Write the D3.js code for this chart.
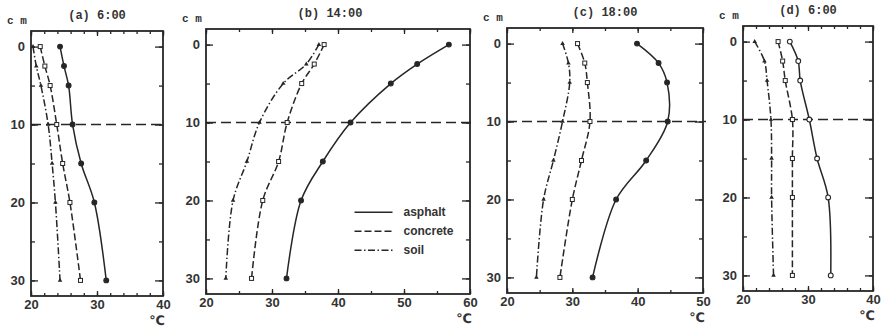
<!DOCTYPE html>
<html>
<head>
<meta charset="utf-8">
<script src="https://cdn.jsdelivr.net/npm/d3@7"></script>
<style>
  body { margin: 0; background: #fff; }
  svg { display: block; }
</style>
</head>
<body>
<svg id="chart" width="884" height="330"></svg>
<script>
// depth of each measurement (cm)
const depths = [0, 2.5, 5, 10, 15, 20, 30];

const panelTitles = ["(a) 6:00", "(b) 14:00", "(c) 18:00", "(d) 6:00"];
const xDomains = [[20, 40], [20, 60], [20, 50], [20, 40]];
const xLabelTicks = [[20, 30, 40], [20, 30, 40, 50, 60], [20, 30, 40, 50], [20, 30, 40]];
const xMinorStep = [2, 5, 5, 2];
const yLabelTicks = [0, 10, 20, 30];
const yMinorTicks = [0, 5, 10, 15, 20, 25, 30];
const seriesNames = ["asphalt", "concrete", "soil"];

// temperatures (°C) per panel, one value per depth
const asphalt = [
  [24.4, 25.0, 25.7, 26.3, 27.6, 29.6, 31.4],
  [56.8, 52.0, 48.0, 41.9, 37.7, 34.4, 32.2],
  [39.9, 43.2, 44.5, 44.6, 41.3, 36.7, 33.1],
  [27.2, 28.5, 28.8, 30.2, 31.4, 33.1, 33.5]
];
const concrete = [
  [21.4, 22.1, 22.9, 23.9, 24.8, 25.9, 27.5],
  [37.9, 36.4, 34.5, 32.3, 31.0, 28.6, 26.9],
  [30.8, 31.9, 32.3, 32.7, 31.4, 30.0, 28.1],
  [25.4, 26.1, 26.5, 27.6, 27.6, 27.6, 27.6]
];
const soil = [
  [20.3, 20.8, 21.5, 22.6, 23.2, 23.7, 24.4],
  [37.1, 35.2, 31.7, 28.1, 26.2, 24.1, 23.0],
  [28.5, 29.4, 29.6, 28.5, 27.1, 25.6, 24.5],
  [21.8, 23.3, 23.7, 24.3, 24.4, 24.4, 24.7]
];

// frame boxes of the four panels
const layout = [
  { left: 31, right: 163, top: 31 },
  { left: 206, right: 470, top: 29 },
  { left: 507, right: 703, top: 28 },
  { left: 743, right: 873, top: 26 }
];
const frameH = 265;
const ink = "#262626";
const dashes = { asphalt: null, concrete: "7,3", soil: "7,2.5,1.5,2.5" };

const svg = d3.select("#chart");

layout.forEach((box, i) => {
  const x = d3.scaleLinear().domain(xDomains[i]).range([box.left, box.right]);
  const y = d3.scaleLinear().domain([-2, 32]).range([box.top, box.top + frameH]);
  const g = svg.append("g");
  const bottom = box.top + frameH;

  const minor = d3.range(xDomains[i][0], xDomains[i][1] + 0.01, xMinorStep[i]);

  // axes with inward ticks
  const addAxis = (axis, tx, ty, labels) => {
    const a = g.append("g").attr("transform", `translate(${tx},${ty})`).call(axis);
    a.select(".domain").remove();
    a.selectAll("line").attr("stroke", ink).attr("stroke-width", 1.3);
    a.selectAll("text")
      .attr("font-family", "Liberation Sans, Arial, sans-serif")
      .attr("font-size", 13)
      .attr("font-weight", "bold")
      .attr("fill", "#333");
    if (!labels) a.selectAll("text").remove();
    return a;
  };

  addAxis(d3.axisBottom(x).tickValues(minor).tickSize(-3).tickFormat(""), 0, bottom, false);
  addAxis(d3.axisBottom(x).tickValues(xLabelTicks[i]).tickSize(-5).tickPadding(4), 0, bottom, true);
  addAxis(d3.axisTop(x).tickValues(minor).tickSize(-3).tickFormat(""), 0, box.top, false);
  addAxis(d3.axisTop(x).tickValues(xLabelTicks[i]).tickSize(-5), 0, box.top, false);
  addAxis(d3.axisLeft(y).tickValues(yMinorTicks).tickSize(-4).tickFormat(""), box.left, 0, false);
  addAxis(d3.axisLeft(y).tickValues(yLabelTicks).tickSize(-7).tickPadding(6), box.left, 0, true);
  addAxis(d3.axisRight(y).tickValues(yMinorTicks).tickSize(-4).tickFormat(""), box.right, 0, false);
  addAxis(d3.axisRight(y).tickValues(yLabelTicks).tickSize(-8), box.right, 0, false);

  // frame
  g.append("rect")
    .attr("x", box.left)
    .attr("y", box.top)
    .attr("width", box.right - box.left)
    .attr("height", frameH)
    .attr("fill", "none")
    .attr("stroke", ink)
    .attr("stroke-width", 1.8);

  // 10 cm reference line
  g.append("line")
    .attr("x1", box.left)
    .attr("x2", box.right + 3)
    .attr("y1", y(10))
    .attr("y2", y(10))
    .attr("stroke", ink)
    .attr("stroke-width", 1.5)
    .attr("stroke-dasharray", "10,5");

  const line = d3.line()
    .x((d) => x(d.t))
    .y((d) => y(d.d))
    .curve(d3.curveCatmullRom.alpha(0.5));

  const series = [
    { name: "asphalt", values: asphalt[i] },
    { name: "concrete", values: concrete[i] },
    { name: "soil", values: soil[i] }
  ];

  series.forEach((s) => {
    const pts = depths.map((d, k) => ({ d: d, t: s.values[k] }));
    g.append("path")
      .datum(pts)
      .attr("d", line)
      .attr("fill", "none")
      .attr("stroke", ink)
      .attr("stroke-width", 1.5)
      .attr("stroke-dasharray", dashes[s.name]);

    const marks = g.append("g").selectAll("g").data(pts).enter().append("g")
      .attr("transform", (d) => `translate(${x(d.t)},${y(d.d)})`);
    if (s.name === "asphalt") {
      marks.append("circle")
        .attr("r", 2.4)
        .attr("fill", i === 3 ? "#fff" : ink)
        .attr("stroke", ink)
        .attr("stroke-width", 1.1);
    } else if (s.name === "concrete") {
      marks.append("rect")
        .attr("x", -2).attr("y", -2).attr("width", 4).attr("height", 4)
        .attr("fill", "#fff")
        .attr("stroke", ink)
        .attr("stroke-width", 1);
    } else {
      marks.append("path")
        .attr("d", d3.symbol(d3.symbolTriangle, 9))
        .attr("fill", ink);
    }
  });

  // title, unit labels
  g.append("text")
    .attr("x", (box.left + box.right) / 2 + (i === 1 ? -8 : 0))
    .attr("y", box.top - 12)
    .attr("text-anchor", "middle")
    .attr("font-family", "Liberation Mono, DejaVu Sans Mono, monospace")
    .attr("font-size", 12)
    .attr("font-weight", "bold")
    .attr("fill", "#333")
    .text(panelTitles[i]);

  g.append("text")
    .attr("x", box.left - 24)
    .attr("y", box.top - 7)
    .attr("font-family", "Liberation Mono, DejaVu Sans Mono, monospace")
    .attr("font-size", 11)
    .attr("font-weight", "bold")
    .attr("fill", "#333")
    .text("c m");

  g.append("text")
    .attr("x", box.right - 6)
    .attr("y", bottom + 29)
    .attr("text-anchor", "middle")
    .attr("font-family", "DejaVu Sans, sans-serif")
    .attr("font-size", 13)
    .attr("font-weight", "bold")
    .attr("fill", "#333")
    .text("\u2103");

  // legend only in panel (b)
  if (i === 1) {
    const lg = g.append("g").attr("transform", `translate(${x(42.5)},${y(21.5)})`);
    seriesNames.forEach((name, k) => {
      lg.append("line")
        .attr("x1", 0).attr("x2", 38)
        .attr("y1", k * 19).attr("y2", k * 19)
        .attr("stroke", ink)
        .attr("stroke-width", 1.5)
        .attr("stroke-dasharray", dashes[name]);
      lg.append("text")
        .attr("x", 49)
        .attr("y", k * 19 + 4)
        .attr("font-family", "Liberation Sans, Arial, sans-serif")
        .attr("font-size", 12)
        .attr("font-weight", "bold")
        .attr("fill", "#333")
        .text(name);
    });
  }
});
</script>
</body>
</html>
